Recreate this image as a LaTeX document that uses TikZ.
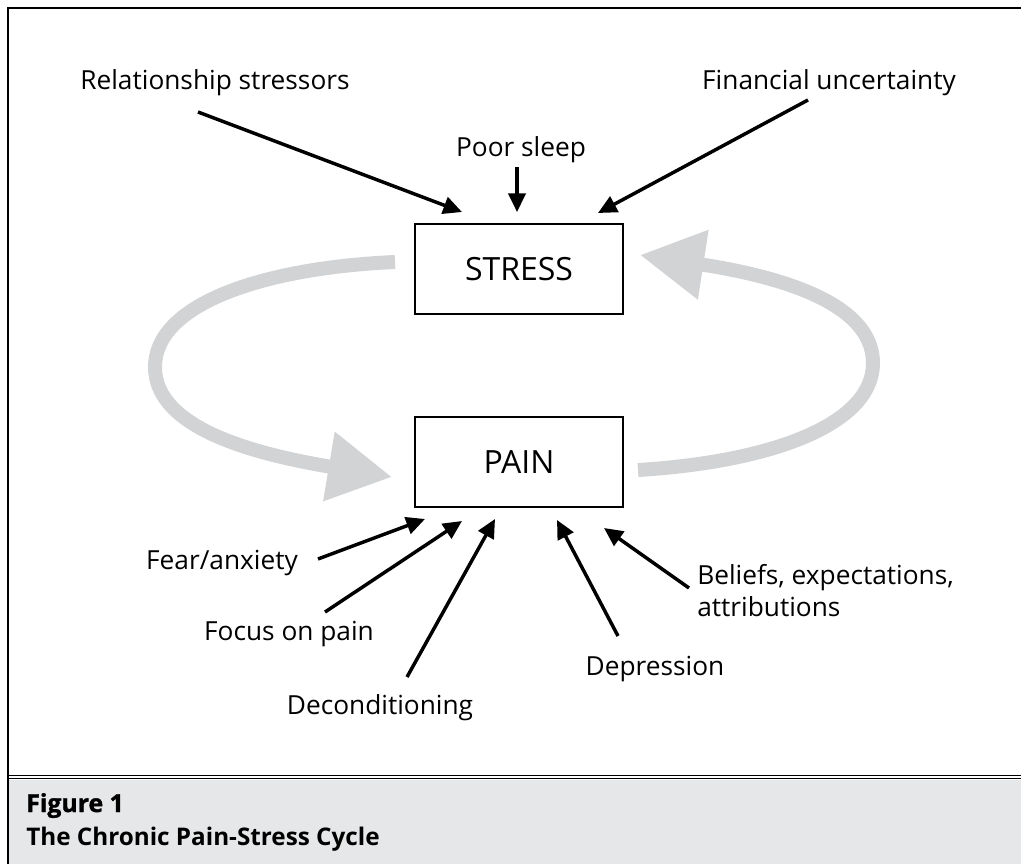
\documentclass[tikz,border=0pt]{standalone}
\usepackage{fontspec}
\setmainfont{Open Sans}
\newfontfamily\heavyfont[BoldFeatures={FakeBold=1.3}]{Open Sans}
\usetikzlibrary{arrows.meta,positioning}
\definecolor{cyclegray}{HTML}{D1D3D4}
\definecolor{capgray}{HTML}{E6E7E8}
\tikzset{
  box/.style={draw, line width=1pt, minimum width=156pt, minimum height=67.5pt,
    inner sep=0pt, font=\fontsize{24}{28}\selectfont},
  factor/.style={inner sep=0pt, font=\fontsize{19.7}{24}\selectfont},
  cause/.style={line width=2.6pt, -{Triangle[length=14pt,width=13pt]}},
  loopband/.style={line width=10.5pt, draw=cyclegray,
    -{Triangle[length=48pt,width=50pt]}},
  captext/.style={inner sep=0pt, anchor=base west, font=\fontsize{18.2}{22}\selectfont\bfseries}
}
\begin{document}
\begin{tikzpicture}[x=0.75pt, y=-0.75pt]
    \useasboundingbox (0,0) rectangle (1021,864);

    % 1. Caption panel and frame
    \fill[capgray] (8,780) rectangle (1021,864);
    \draw[line width=1pt] (8,775.5) -- (1021,775.5);
    \draw[line width=1pt] (8,778.8) -- (1021,778.8);
    \draw[line width=1.1pt] (8,864) -- (8,8) -- (1021,8);
    \node[captext, font=\fontsize{18.6}{22}\selectfont\heavyfont\bfseries] (fignum) at (26,812) {Figure 1};
    \node[captext] (figtitle) at (26,845) {The Chronic Pain-Stress Cycle};

    % 2. The two boxes
    \node[box] (stress) at (519,269) {STRESS};
    \node[box] (pain) at (519,462) {PAIN};

    % 3. Grey cycle arrows
    \coordinate (stress-out) at (395,262);
    \coordinate (pain-in) at (392,477);
    \coordinate (pain-out) at (638,470);
    \coordinate (stress-in) at (640,255);
    \draw[loopband] (stress-out) .. controls (260,268) and (155,305) .. (155,367)
        .. controls (155,430) and (260,455) .. (pain-in);
    \draw[loopband] (pain-out) .. controls (770,462) and (873,425) .. (873,363)
        .. controls (873,300) and (770,275) .. (stress-in);

    % 4. Stressors feeding STRESS
    \node[factor, anchor=base] (rel) at (215,89) {Relationship stressors};
    \node[factor, anchor=base] (sleep) at (521,156) {Poor sleep};
    \node[factor, anchor=base] (fin) at (829,89) {Financial uncertainty};
    \coordinate (rel-a) at (198,112);   \coordinate (rel-b) at (462,212);
    \coordinate (sleep-a) at (517,167); \coordinate (sleep-b) at (517,212);
    \coordinate (fin-a) at (808,100);   \coordinate (fin-b) at (598,213);
    \draw[cause] (rel-a) -- (rel-b);
    \draw[cause] (sleep-a) -- (sleep-b);
    \draw[cause] (fin-a) -- (fin-b);

    % 5. Factors feeding PAIN
    \node[factor, anchor=base] (fear) at (222,569) {Fear/anxiety};
    \node[factor, anchor=base] (focus) at (289,640) {Focus on pain};
    \node[factor, anchor=base] (decond) at (380,714) {Deconditioning};
    \node[factor, anchor=base] (depr) at (655,675) {Depression};
    \node[factor, anchor=west, align=left] (belief) at (697,591)
        {Beliefs, expectations,\\attributions};
    \coordinate (fear-a) at (318,559);   \coordinate (fear-b) at (425,519);
    \coordinate (focus-a) at (325,612);  \coordinate (focus-b) at (462,521);
    \coordinate (decond-a) at (407,677); \coordinate (decond-b) at (495,519);
    \coordinate (depr-a) at (618,636);   \coordinate (depr-b) at (557,520);
    \coordinate (belief-a) at (689,588); \coordinate (belief-b) at (604,528);
    \draw[cause] (fear-a) -- (fear-b);
    \draw[cause] (focus-a) -- (focus-b);
    \draw[cause] (decond-a) -- (decond-b);
    \draw[cause] (depr-a) -- (depr-b);
    \draw[cause] (belief-a) -- (belief-b);
\end{tikzpicture}
\end{document}
